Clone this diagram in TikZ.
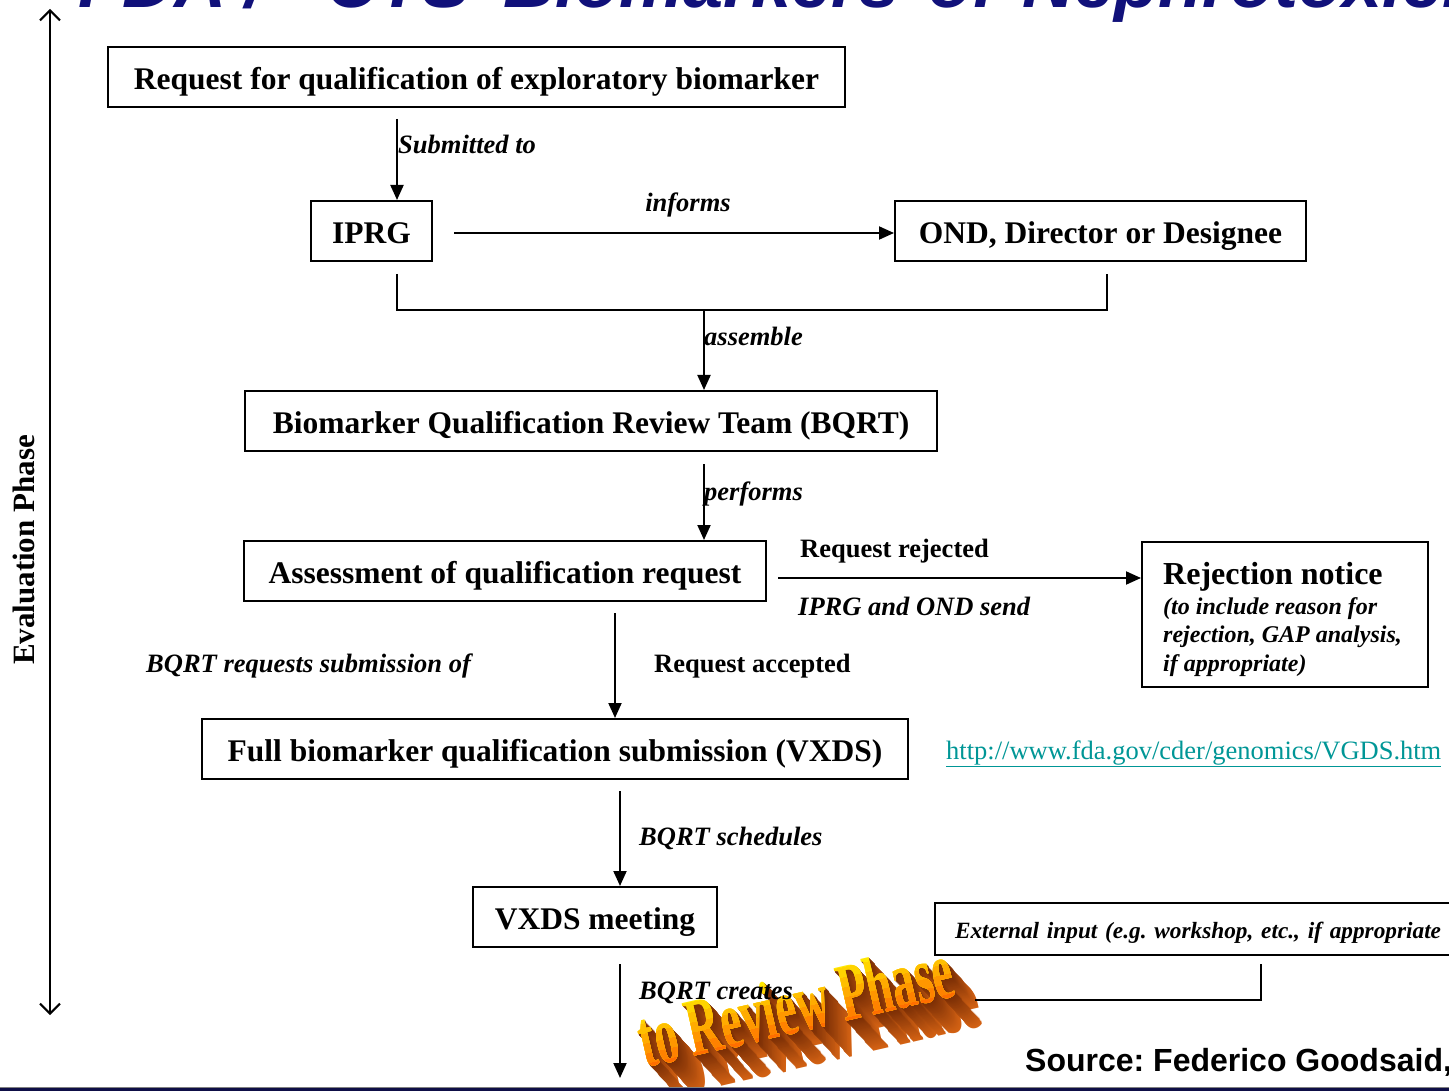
\documentclass[tikz,border=0pt]{standalone}
\usepackage{fontspec}
\setmainfont{Liberation Serif}
\newfontfamily\arialfont{Liberation Sans}
\usetikzlibrary{arrows.meta,calc}
\definecolor{titleblue}{RGB}{17,17,122}
\definecolor{urlteal}{RGB}{0,150,150}
\definecolor{barnavy}{RGB}{14,14,70}
\definecolor{waYellow}{RGB}{255,232,0}
\definecolor{waOrange}{RGB}{255,105,0}
\definecolor{waNear}{RGB}{120,45,5}
\definecolor{waFar}{RGB}{215,100,20}
\tikzset{
  box/.style={draw, line width=2pt, minimum height=60pt, inner sep=0pt,
    font=\fontsize{31.5}{36}\selectfont\bfseries, text height=25pt, text depth=0pt},
  lbl/.style={inner sep=0pt, anchor=base west, font=\fontsize{26.5}{30}\selectfont\bfseries\itshape},
  lblup/.style={inner sep=0pt, anchor=base west, font=\fontsize{26.5}{30}\selectfont\bfseries},
  small/.style={inner sep=0pt, anchor=base west, font=\fontsize{24}{28}\selectfont\bfseries\itshape},
  arr/.style={line width=2pt, -{Triangle[length=15pt,width=13pt]}},
  ln/.style={line width=2pt},
  titletext/.style={inner sep=0pt, anchor=base west, text=titleblue,
    font=\arialfont\bfseries\itshape\fontsize{72}{80}\selectfont},
  wa/.style={inner sep=0pt, anchor=base west, xscale=0.84, yscale=1.5,
    font=\fontsize{55}{60}\selectfont\bfseries},
}
\frenchspacing
\begin{document}
\begin{tikzpicture}[x=1pt,y=-1pt]
\useasboundingbox (0,0) rectangle (1449,1091);

% title (clipped at top)
\node[titletext] (ti1) at (78,7.5) {FDA};
\node[titletext] (ti2) at (245,7.5) {/};
\node[titletext] (ti3) at (326,7.5) {CTS};
\node[titletext] (ti4) at (503,7.5) {Biomarkers};
\node[titletext] (ti5) at (928,7.5) {of};
\node[titletext] (ti6) at (1022,7.5) {Nephrotoxicity};

% WordArt "to Review Phase"
\foreach \i in {30,...,1}{
  \pgfmathtruncatemacro\p{100-3.2*\i}
  \node[rotate=13, wa, text=waNear!\p!waFar] (wax\i) at ({645+0.9*\i},{1068+1.0*\i}) {to Review Phase};
}
\foreach \k in {0,...,6}{
  \pgfmathtruncatemacro\q{16*\k}
  \begin{scope}
    \clip[shift={(645,1068)}, rotate=13] (-20,{-64+10*\k}) rectangle (380,15);
    \node[rotate=13, wa, text=waOrange!\q!waYellow] (waf\k) at (645,1068) {to Review Phase};
  \end{scope}
}

% Evaluation phase axis
\coordinate (evtop) at (50,9);
\coordinate (evbot) at (50,1015);
\draw[line width=2pt, {Straight Barb[length=10pt,width=20pt]}-{Straight Barb[length=10pt,width=20pt]}] (evtop) -- (evbot);
\node[rotate=90, inner sep=0pt, font=\fontsize{31}{34}\selectfont\bfseries] (evlbl) at (24,550) {Evaluation Phase};

% boxes
\node[box, minimum width=737pt] (req) at (476.5,77) {Request for qualification of exploratory biomarker};
\node[box, minimum width=121pt] (iprg) at (371.5,231) {IPRG};
\node[box, minimum width=411pt] (ond) at (1100.5,231) {OND, Director or Designee};
\node[box, minimum width=692pt] (bqrt) at (591,421) {Biomarker Qualification Review Team (BQRT)};
\node[box, minimum width=522pt] (assess) at (505,571) {Assessment of qualification request};
\node[box, minimum width=706pt] (full) at (555,749) {Full biomarker qualification submission (VXDS)};
\node[box, minimum width=244pt] (vxds) at (595,917) {VXDS meeting};
\node[draw, line width=2pt, minimum width=286pt, minimum height=145pt] (rej) at (1285,614.5) {};
\node[inner sep=0pt, anchor=base west, font=\fontsize{32}{36}\selectfont\bfseries] (rej1) at (1163,584) {Rejection notice};
\node[small] (rej2) at (1163,614) {(to include reason for};
\node[small] (rej3) at (1163,642.5) {rejection, GAP analysis,};
\node[small] (rej4) at (1163,671) {if appropriate)};
\node[draw, line width=2pt, anchor=west, minimum height=52pt, text width=520pt, inner xsep=20pt, inner ysep=0pt,
  align=left, font=\fontsize{23.3}{28}\selectfont\bfseries\itshape, text height=18pt, text depth=0pt]
  (ext) at (934,929) {External input (e.g. workshop, etc., if appropriate};

% connectors
\draw[arr] ([xshift=-79.5pt,yshift=-11pt]req.south) -- ([xshift=25.5pt]iprg.north);
\draw[arr] ([xshift=21pt,yshift=-2pt]iprg.east) -- ([yshift=-2pt]ond.west);
\coordinate (asm) at (704,310);
\draw[ln] ([xshift=25.5pt,yshift=-12pt]iprg.south) |- (asm) -| ([xshift=6.5pt,yshift=-12pt]ond.south);
\draw[arr] (asm) -- (asm |- bqrt.north);
\draw[arr] ([xshift=113pt,yshift=-12pt]bqrt.south) coordinate (p1) -- (p1 |- assess.north);
\draw[arr] ([xshift=11pt,yshift=-7pt]assess.east) coordinate (p2) -- (p2 -| rej.west);
\draw[arr] ([xshift=110pt,yshift=-11pt]assess.south) coordinate (p3) -- (p3 |- full.north);
\draw[arr] ([xshift=65pt,yshift=-11pt]full.south) coordinate (p4) -- (p4 |- vxds.north);
\coordinate (revend) at (620,1078);
\draw[arr] ([xshift=25pt,yshift=-16pt]vxds.south) -- (revend);
\coordinate (extend) at (975,1000);
\draw[ln] ([xshift=46pt,yshift=-8pt]ext.south) |- (extend);

% labels
\node[lbl] (l1) at (398,154) {Submitted to};
\node[lbl, anchor=base] (l2) at (688,212) {informs};
\node[lbl] (l3) at (704,346) {assemble};
\node[lbl] (l4) at (704,500) {performs};
\node[lblup] (l5) at (800,557) {Request rejected};
\node[lbl] (l6) at (798,615) {IPRG and OND send};
\node[lbl] (l7) at (146,672) {BQRT requests submission of};
\node[lblup] (l8) at (654,672) {Request accepted};
\node[lbl] (l9) at (639,845) {BQRT schedules};
\node[lbl] (l10) at (639,999) {BQRT creates};

\node[inner sep=0pt, anchor=base west, font=\fontsize{26.5}{30}\selectfont, text=urlteal] (url) at (946,759)
  {\underline{http://www.fda.gov/cder/genomics/VGDS.htm}};
\node[inner sep=0pt, anchor=base west, font=\arialfont\bfseries\fontsize{32}{36}\selectfont] (src) at (1025,1071)
  {Source: Federico Goodsaid,};

% bottom bar
\fill[barnavy] (0,1088) rectangle (1449,1091);
\draw[gray, line width=1pt] (0,1087.5) -- (1449,1087.5);
\end{tikzpicture}
\end{document}
